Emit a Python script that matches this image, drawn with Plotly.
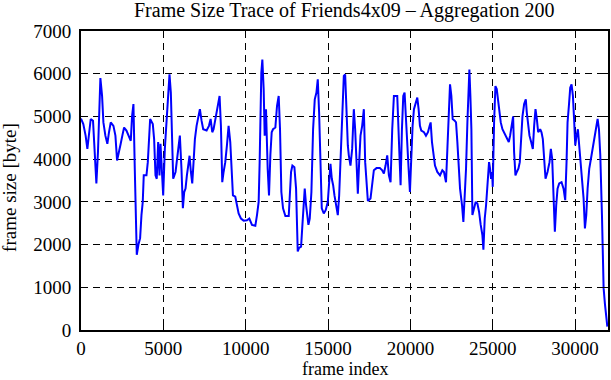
import plotly.graph_objects as go

frame_index = [
    0, 140, 280, 386, 520, 590, 730, 830, 933, 1030, 1100, 1177, 1280, 1360, 1480, 1600, 1700, 1805,
    1970, 2090, 2190, 2290, 2410, 2510, 2616, 2760, 2900, 3022, 3100, 3184, 3265, 3326, 3387, 3488,
    3590, 3671, 3750, 3810, 3975, 4056, 4137, 4198, 4360, 4440, 4523, 4600, 4685, 4766, 4827, 4908,
    4990, 5090, 5190, 5290, 5374, 5455, 5536, 5598, 5740, 5820, 5900, 6003, 6100, 6186, 6267, 6348,
    6430, 6510, 6592, 6673, 6754, 6835, 6916, 7018, 7119, 7220, 7320, 7420, 7626, 7770, 7870, 7970,
    8050, 8151, 8293, 8415, 8496, 8577, 8658, 8760, 8861, 8962, 9064, 9165, 9226, 9368, 9470, 9571,
    9713, 9875, 10078, 10220, 10382, 10585, 10686, 10788, 10848, 10889, 10950, 11011, 11092, 11153,
    11234, 11335, 11416, 11498, 11579, 11660, 11801, 11903, 12004, 12085, 12166, 12268, 12410, 12613,
    12674, 12755, 12836, 12958, 13059, 13160, 13241, 13363, 13444, 13525, 13586, 13667, 13728, 13809,
    13890, 13991, 14093, 14194, 14296, 14377, 14458, 14539, 14620, 14742, 14864, 14986, 15067, 15148,
    15229, 15310, 15391, 15492, 15594, 15675, 15756, 15858, 15959, 16040, 16121, 16202, 16262, 16363,
    16465, 16566, 16647, 16728, 16810, 16891, 16972, 17073, 17175, 17256, 17337, 17418, 17580, 17682,
    17783, 17945, 18148, 18290, 18391, 18493, 18594, 18696, 18797, 18898, 19000, 19203, 19304, 19406,
    19487, 19568, 19649, 19730, 19811, 19892, 19973, 20054, 20135, 20217, 20318, 20419, 20500, 20581,
    20663, 20825, 20947, 21068, 21170, 21231, 21312, 21393, 21494, 21636, 21799, 21940, 22042, 22164,
    22245, 22346, 22407, 22488, 22569, 22691, 22772, 22853, 22934, 23016, 23137, 23218, 23299, 23380,
    23462, 23523, 23583, 23644, 23705, 23766, 23866, 23967, 24069, 24170, 24271, 24373, 24434, 24515,
    24596, 24677, 24778, 24839, 24900, 24961, 25001, 25083, 25164, 25245, 25326, 25407, 25488, 25590,
    25691, 25833, 25975, 26056, 26157, 26239, 26299, 26380, 26461, 26563, 26644, 26725, 26806, 26908,
    27009, 27070, 27151, 27232, 27334, 27435, 27516, 27597, 27678, 27760, 27881, 27962, 28043, 28125,
    28206, 28327, 28449, 28530, 28611, 28692, 28773, 28855, 28936, 29037, 29179, 29301, 29402, 29483,
    29544, 29625, 29706, 29787, 29869, 29950, 30011, 30092, 30173, 30234, 30315, 30416, 30518, 30599,
    30680, 30761, 30862, 30964, 31065, 31166, 31268, 31369, 31451, 31532, 31633, 31734, 31816, 31900,
    31960,
]

frame_size = [
    4950, 4820, 4550, 4240, 4700, 4940, 4900, 4280, 3430, 4160, 5000, 5900, 5480, 4860, 4550, 4360,
    4630, 4860, 4780, 4550, 3970, 4120, 4360, 4550, 4740, 4670, 4550, 4430, 5000, 5290, 3780, 2690,
    1760, 2000, 2150, 2690, 3000, 3620, 3620, 3930, 4700, 4940, 4820, 4470, 3620, 3540, 4400, 3620,
    4360, 3780, 3150, 4240, 4940, 5480, 5985, 5560, 4470, 3540, 3700, 3970, 4240, 4550, 3780, 2850,
    3230, 3310, 3620, 3930, 4080, 3700, 3430, 3930, 4470, 4780, 5000, 5170, 4900, 4700, 4670, 4780,
    4940, 4630, 4700, 4940, 5250, 5480, 4780, 3460, 3700, 3930, 4320, 4780, 4400, 3780, 3150, 3120,
    2920, 2730, 2610, 2560, 2570, 2610, 2460, 2440, 2690, 3000, 3930, 5000, 6020, 6330, 5640, 4550,
    5170, 3780, 3150, 4090, 4630, 4700, 4740, 5250, 5480, 4700, 3230, 2850, 2670, 2670, 3150, 3700,
    3850, 3810, 3310, 1840, 1920, 1950, 2460, 3150, 3310, 2920, 2690, 2460, 2610, 3230, 4700, 5400,
    5560, 5870, 5090, 4090, 2850, 2730, 2810, 3000, 3460, 3890, 3540, 3390, 3150, 2960, 2690, 3150,
    4010, 5000, 5950, 5980, 5000, 4320, 4090, 3850, 4240, 5170, 4700, 3780, 3190, 3930, 4550, 4780,
    5170, 3930, 3390, 3020, 3080, 3390, 3740, 3790, 3790, 3740, 3660, 3850, 4090, 3620, 3460, 4700,
    5480, 5480, 4320, 3390, 4700, 5480, 5560, 4860, 4240, 3780, 3230, 4160, 4780, 5170, 5290, 5440,
    5170, 4780, 4670, 4630, 4550, 4630, 4780, 4860, 4400, 4090, 3850, 3700, 3620, 3740, 3700, 3460,
    4240, 5250, 5750, 5480, 4940, 4900, 4860, 4400, 3850, 3310, 2920, 2530, 3150, 3780, 4860, 5480,
    6100, 5480, 4700, 2690, 2850, 3000, 2960, 2770, 2460, 2220, 1880, 2610, 2920, 3460, 3930, 3780,
    3540, 3700, 3350, 4860, 5710, 5640, 5330, 5170, 4860, 4700, 4630, 4510, 4400, 4550, 4780, 5000,
    4160, 3620, 3700, 3780, 3930, 4550, 5000, 5290, 5400, 5090, 4780, 4550, 4400, 4240, 4780, 5170,
    4940, 4630, 4700, 4630, 4470, 3930, 3540, 3700, 3930, 4240, 4010, 3150, 2300, 2920, 3310, 3430,
    3460, 3310, 3040, 3930, 4860, 5250, 5670, 5750, 5480, 4860, 4320, 4550, 4700, 4400, 4010, 3540,
    3080, 2380, 2690, 3310, 3780, 4010, 4240, 4470, 4700, 4940, 4700, 4090, 2690, 980, 600, 250,
    80,
]

x_ticks = [0, 5000, 10000, 15000, 20000, 25000, 30000]
y_ticks = [0, 1000, 2000, 3000, 4000, 5000, 6000, 7000]

title_text = "Frame Size Trace of Friends4x09 \u2013 Aggregation 200"
x_title = "frame index"
y_title = "frame size [byte]"

FONT = "Liberation Serif, Times New Roman, serif"

fig = go.Figure()
fig.add_trace(go.Scatter(
    x=frame_index, y=frame_size, mode="lines",
    line=dict(color="#0000FF", width=2),
    showlegend=False, hoverinfo="skip",
))

axis_common = dict(
    showline=True, linecolor="black", linewidth=2, mirror="allticks",
    ticks="inside", ticklen=6, tickwidth=1, tickcolor="black",
    showgrid=True, gridcolor="black", gridwidth=1, griddash="7px,5px",
    zeroline=False, automargin=False,
    tickfont=dict(family=FONT, size=19, color="black"),
)

fig.update_layout(
    width=611, height=380,
    margin=dict(l=81, r=3, t=31, b=50),
    paper_bgcolor="white", plot_bgcolor="white",
    font=dict(family=FONT, size=19, color="black"),
    xaxis=dict(range=[0, 32000], tickvals=x_ticks, ticktext=[str(v) for v in x_ticks],
               ticklabelstandoff=0, **axis_common),
    yaxis=dict(range=[0, 7000], tickvals=y_ticks, ticktext=[str(v) for v in y_ticks],
               ticklabelstandoff=4, **axis_common),
    annotations=[
        dict(text=title_text, xref="paper", yref="paper", x=0.5, y=1.067,
             xanchor="center", yanchor="middle", showarrow=False,
             font=dict(family=FONT, size=20, color="black")),
        dict(text=x_title, xref="paper", yref="paper", x=0.5, y=-0.132,
             xanchor="center", yanchor="middle", showarrow=False,
             font=dict(family=FONT, size=18, color="black")),
        dict(text=y_title, xref="paper", yref="paper", x=-0.137, y=0.478,
             xanchor="center", yanchor="middle", showarrow=False, textangle=-90,
             font=dict(family=FONT, size=19, color="black")),
    ],
)

fig.write_html(
    "out.html",
    config={"displayModeBar": False, "staticPlot": True},
    post_script="document.body.style.margin='0';document.body.style.padding='0';",
)
